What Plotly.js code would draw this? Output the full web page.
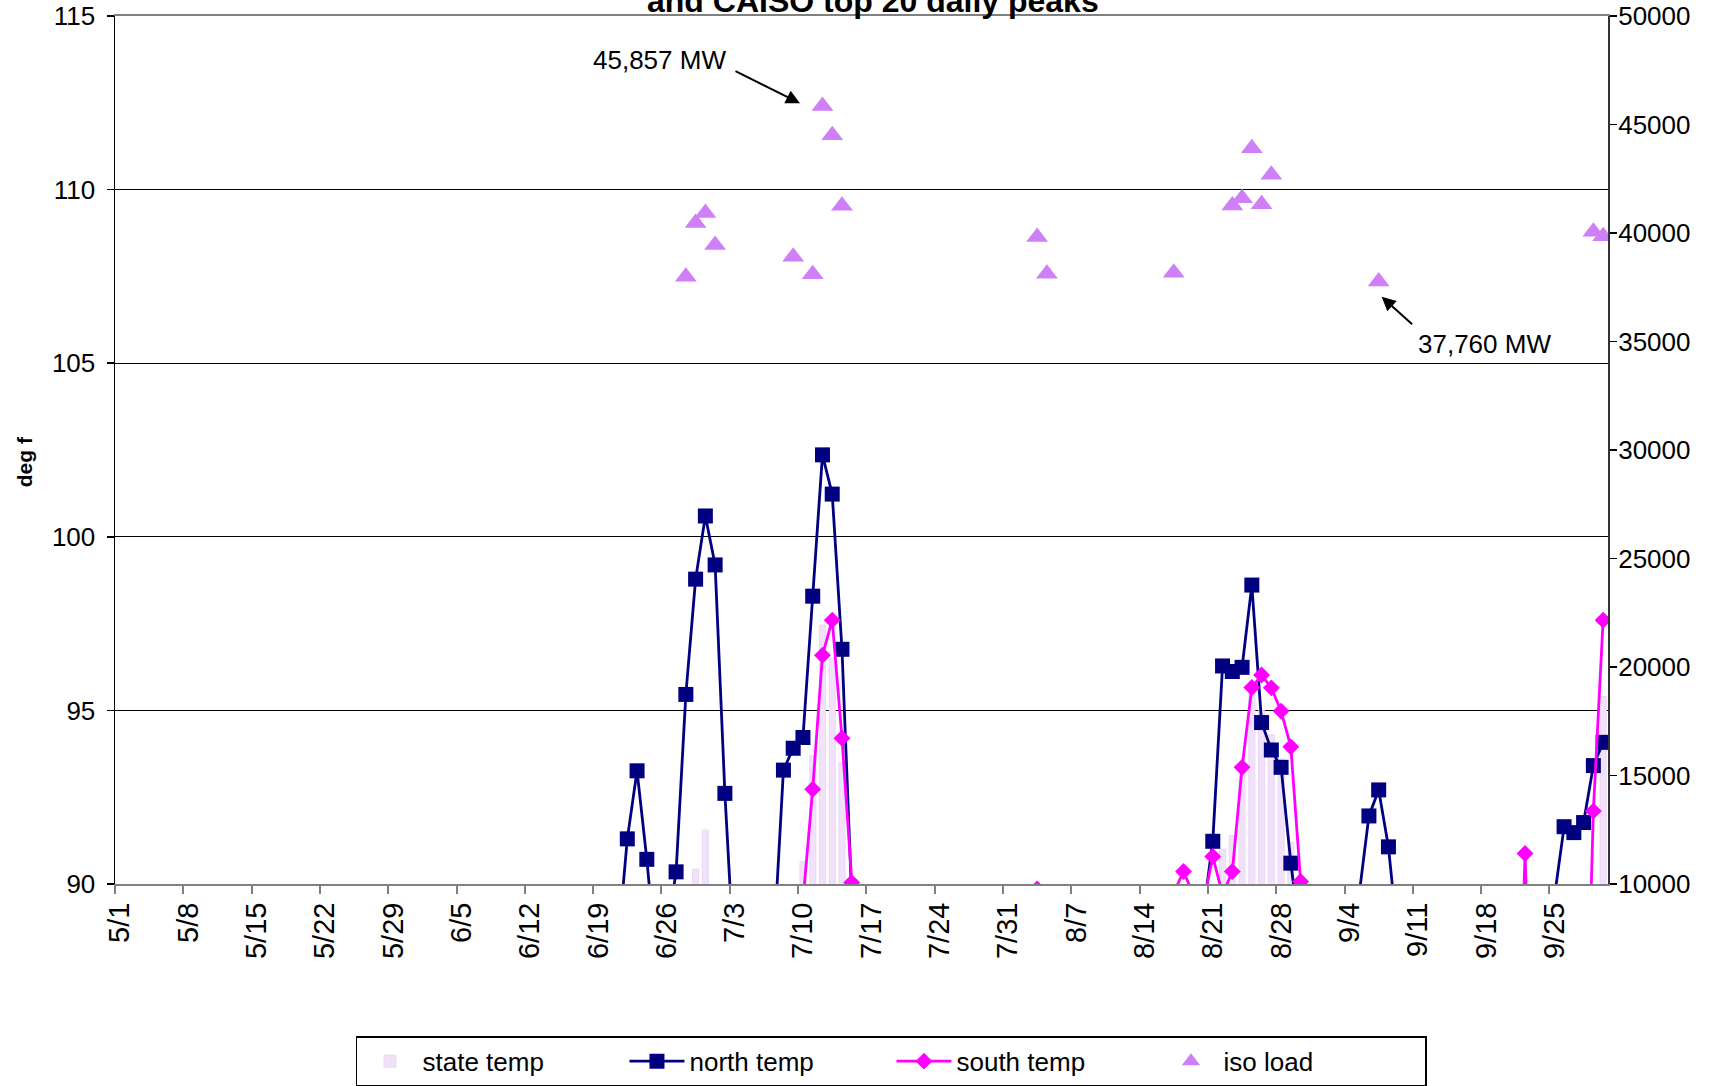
<!DOCTYPE html>
<html>
<head>
<meta charset="utf-8">
<script src="https://cdn.plot.ly/plotly-3.0.1.min.js"></script>
<style>html,body{margin:0;padding:0;background:#fff;}#chart{width:1720px;height:1086px;}</style>
</head>
<body>
<div id="chart"></div>
<script>
// ---- data ----
const tickLabels = ['5/1','5/8','5/15','5/22','5/29','6/5','6/12','6/19','6/26','7/3','7/10','7/17','7/24','7/31','8/7','8/14','8/21','8/28','9/4','9/11','9/18','9/25'];

const stateDates = ['6/29','6/30','7/10','7/11','7/12','7/13','7/14','8/22','8/23','8/24','8/25','8/26','8/27','8/28','8/29','9/30'];
const stateTemp  = [90.43, 91.55, 90.64, 93.7, 97.46, 96.5, 93.5, 91.0, 91.4, 93.4, 95.5, 95.0, 94.3, 93.6, 91.2, 95.4];

const northDates = ['6/21','6/22','6/23','6/24','6/25','6/26','6/27','6/28','6/29','6/30','7/1','7/2','7/3',
  '7/7','7/8','7/9','7/10','7/11','7/12','7/13','7/14','7/15','7/16',
  '8/16','8/17','8/18','8/19','8/20','8/21','8/22','8/23','8/24','8/25','8/26','8/27','8/28','8/29','8/30',
  '9/5','9/6','9/7','9/8','9/9','9/25','9/26','9/27','9/28','9/29','9/30'];
const northTemp = [88.1, 91.3, 93.26, 90.71, 87.7, 88.5, 90.35, 95.46, 98.78, 100.6, 99.19, 92.61, 87.5,
  88.2, 93.28, 93.91, 94.22, 98.29, 102.36, 101.23, 96.76, 89.6, 85,
  86, 89.5, 87, 87.5, 89.1, 91.23, 96.28, 96.12, 96.24, 98.61, 94.65, 93.86, 93.36, 90.6, 88.35,
  89.7, 91.96, 92.71, 91.07, 88.3, 89.6, 91.65, 91.48, 91.77, 93.41, 94.08];

const southDates = ['7/10','7/11','7/12','7/13','7/14','7/15','7/16','8/2','8/3','8/4',
  '8/17','8/18','8/19','8/20','8/21','8/22','8/23','8/24','8/25','8/26','8/27','8/28','8/29','8/30','8/31',
  '9/21','9/22','9/23','9/28','9/29','9/30'];
const southTemp = [89.5, 92.73, 96.59, 97.6, 94.2, 90.04, 86, 84, 89.86, 84,
  89.75, 90.36, 89.7, 89.4, 90.79, 89.7, 90.36, 93.36, 95.66, 96.02, 95.65, 94.98, 93.95, 90.07, 87,
  82, 90.88, 82, 82, 92.1, 97.6];

const isoDates = ['6/28','6/29','6/30','7/1','7/9','7/11','7/12','7/13','7/14','8/3','8/4','8/17','8/23','8/24','8/25','8/26','8/27','9/7','9/29','9/30'];
const isoLoad  = [37986, 40461, 40922, 39447, 38908, 38097, 45857, 44502, 41258, 39816, 38124, 38166, 41267, 41604, 43908, 41323, 42682, 37760, 40060, 39853];

// ---- helpers: calendar position (day index from 5/1) ----
const monthStart = {5: 0, 6: 31, 7: 61, 8: 92, 9: 123};
function dayIdx(md) { const p = md.split('/').map(Number); return monthStart[p[0]] + p[1] - 1; }
const nDays = 153;

const font = 'Liberation Sans, Arial, sans-serif';

const traces = [
  {type: 'bar', name: 'state temp', x: stateDates.map(dayIdx), y: stateTemp, yaxis: 'y',
   width: 0.62, marker: {color: 'rgb(241,226,250)', line: {color: 'rgb(236,214,248)', width: 1}}},
  {type: 'scatter', mode: 'lines+markers', name: 'north temp', x: northDates.map(dayIdx), y: northTemp, yaxis: 'y',
   line: {color: '#000080', width: 2.8}, marker: {symbol: 'square', size: 15, color: '#000080'}},
  {type: 'scatter', mode: 'lines+markers', name: 'south temp', x: southDates.map(dayIdx), y: southTemp, yaxis: 'y',
   line: {color: '#FF00FF', width: 2.8}, marker: {symbol: 'diamond', size: 13, color: '#FF00FF'}},
  {type: 'scatter', mode: 'markers', name: 'iso load', x: isoDates.map(dayIdx), y: isoLoad, yaxis: 'y2',
   marker: {symbol: 'triangle-up', size: 19, color: '#CF7FF7'}}
];

const tickIdx = tickLabels.map(dayIdx);

const layout = {
  width: 1720, height: 1086,
  margin: {l: 115, r: 112, t: 16, b: 202, pad: 0, autoexpand: false},
  paper_bgcolor: '#fff', plot_bgcolor: '#fff',
  font: {family: font, size: 26, color: '#000'},
  showlegend: true,
  bargap: 0,
  xaxis: {
    range: [-0.5, nDays - 0.5], tickmode: 'array',
    tickvals: tickIdx.map(v => v - 0.5), ticktext: tickLabels,
    ticklabelshift: 5, ticklabelstandoff: -3,
    tickangle: -90, ticks: 'outside', ticklen: 8, tickwidth: 2, tickcolor: '#808080',
    showline: true, linecolor: '#808080', linewidth: 2, mirror: true,
    showgrid: false, zeroline: false, fixedrange: true,
    tickfont: {family: font, size: 29, color: '#000'}
  },
  yaxis: {
    range: [90, 115], dtick: 5, tick0: 90,
    ticks: 'outside', ticklen: 7, tickwidth: 1.5, tickcolor: '#000',
    showline: true, linecolor: '#000', linewidth: 1.5,
    showgrid: true, gridcolor: '#000', gridwidth: 1, zeroline: false,
    tickfont: {family: font, size: 26, color: '#000'}, ticklabelstandoff: 6
  },
  yaxis2: {
    range: [10000, 50000], dtick: 5000, tick0: 10000, tickformat: 'd',
    overlaying: 'y', side: 'right',
    ticks: 'outside', ticklen: 7, tickwidth: 1.5, tickcolor: '#000',
    showline: true, linecolor: '#333', linewidth: 2,
    showgrid: false, zeroline: false,
    tickfont: {family: font, size: 26, color: '#000'}, ticklabelstandoff: -4
  },
  legend: {
    orientation: 'h', x: 0.1614, xanchor: 'left', y: -0.1754, yanchor: 'top',
    bgcolor: '#fff', bordercolor: '#000', borderwidth: 1.5,
    font: {family: font, size: 26, color: '#000'},
    itemwidth: 55, entrywidth: 197, entrywidthmode: 'pixels', traceorder: 'normal'
  },
  annotations: [
    {text: '<b>and CAISO top 20 daily peaks</b>', xref: 'paper', yref: 'paper', x: 0.508, y: 1, xanchor: 'center', yanchor: 'bottom',
     yshift: -5, showarrow: false, font: {family: font, size: 32, color: '#000'}},
    {text: '<b>deg f</b>', xref: 'paper', yref: 'paper', x: -0.061, y: 0.487, xanchor: 'center', yanchor: 'middle',
     textangle: -90, showarrow: false, font: {family: font, size: 21, color: '#000'}},
    {text: '45,857 MW', xref: 'paper', yref: 'paper', x: 0.3644, y: 0.9493, xanchor: 'center', yanchor: 'middle',
     showarrow: false, font: {family: font, size: 26, color: '#000'}},
    {text: '', xref: 'paper', yref: 'paper', x: 0.4588, y: 0.8994, showarrow: true, axref: 'pixel', ayref: 'pixel',
     ax: -66, ay: -33, arrowhead: 2, arrowsize: 1.4, arrowwidth: 2, arrowcolor: '#000', standoff: 0},
    {text: '37,760 MW', xref: 'paper', yref: 'paper', x: 0.9176, y: 0.6221, xanchor: 'center', yanchor: 'middle',
     showarrow: false, font: {family: font, size: 26, color: '#000'}},
    {text: '', xref: 'paper', yref: 'paper', x: 0.8484, y: 0.6766, showarrow: true, axref: 'pixel', ayref: 'pixel',
     ax: 32, ay: 29, arrowhead: 2, arrowsize: 1.4, arrowwidth: 2, arrowcolor: '#000', standoff: 0}
  ]
};

Plotly.newPlot('chart', traces, layout, {displayModeBar: false, staticPlot: true});
</script>
</body>
</html>
